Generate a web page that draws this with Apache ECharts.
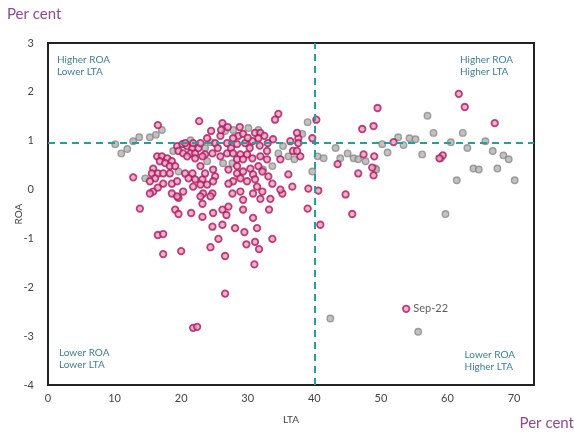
<!DOCTYPE html>
<html><head><meta charset="utf-8">
<script src="https://cdn.jsdelivr.net/npm/echarts@6/dist/echarts.min.js"></script>
<style>html,body{margin:0;padding:0;background:#fff}#c{width:574px;height:435px}</style>
</head><body><div id="c"></div>
<script>
// [LTA, ROA] pairs, per cent
const greyPoints = [
[10.1,0.93],[11.0,0.74],[11.9,0.83],[12.8,0.99],[13.7,1.07],[15.3,1.07],[16.2,1.12],[17.1,1.22],
[14.6,0.23],[19.6,0.37],[21.4,1.01],[26.6,1.20],[27.8,1.22],[30.1,1.26],[31.6,1.22],[24.4,0.97],
[23.6,0.85],[34.6,0.74],[36.1,0.68],[37.0,0.62],[27.7,0.54],[26.3,0.54],[33.7,0.48],[32.3,0.41],
[39.0,1.38],[38.2,1.14],[35.3,0.89],[40.5,0.68],[41.4,0.64],[43.2,0.85],[45.0,0.74],[43.9,0.64],
[45.9,0.64],[46.6,0.62],[47.7,0.58],[49.2,0.43],[39.7,0.37],[57.0,1.51],[57.9,1.16],[52.6,1.07],
[54.3,1.05],[55.2,1.03],[53.4,0.91],[50.2,0.93],[51.0,0.76],[56.2,0.72],[59.0,0.64],[60.5,0.97],
[62.3,1.16],[63.0,0.85],[65.7,0.99],[66.8,0.79],[68.4,0.70],[69.2,0.62],[63.9,0.43],[64.7,0.41],
[67.5,0.43],[61.4,0.19],[70.1,0.19],[49.3,0.41],[59.7,-0.50],[42.4,-2.64],[55.6,-2.91],[23.9,0.58],
[18.8,0.79]
];
const pinkPoints = [
[49.5,1.67],[48.9,1.30],[47.2,1.24],[51.9,0.97],[59.3,0.70],[58.8,0.64],[61.7,1.96],[62.6,1.69],
[67.1,1.36],[49.0,0.68],[48.7,0.45],[48.9,0.29],[47.4,0.72],[46.6,0.33],[43.5,0.52],[44.7,-0.10],
[45.7,-0.50],[40.9,-0.72],[40.3,1.43],[39.7,1.05],[40.6,-0.02],[39.1,0.02],[39.0,-0.39],
[37.6,1.05],[37.6,0.95],[36.4,0.99],[37.4,1.16],[37.9,0.68],[36.8,0.79],[33.8,1.03],[34.6,1.55],
[34.1,1.43],[35.2,-0.08],
[16.5,1.32],[22.7,1.40],[26.2,1.36],[12.8,0.25],[13.8,-0.39],
[16.4,0.68],[17.1,0.68],[17.9,0.64],[16.8,0.58],[17.6,0.54],[18.6,0.58],[18.3,0.48],[19.1,0.48],
[15.8,0.43],[15.6,0.33],[16.5,0.33],[17.3,0.33],[18.3,0.33],[16.1,0.23],[15.3,0.17],[17.3,0.12],
[18.6,0.12],[15.8,-0.04],[15.3,-0.08],[18.6,-0.08],[16.5,0.04],[20.3,-0.04],[19.6,-0.17],[19.4,0.17],
[19.4,0.89],[20.2,0.93],[20.9,0.89],[21.7,0.85],[19.6,0.79],[20.3,0.74],[21.4,0.74],[22.1,0.74],
[22.6,0.85],[22.9,0.95],[21.8,0.95],[20.6,0.95],[20.9,0.68],[22.1,0.64],[23.6,0.72],[22.9,0.48],
[20.6,0.33],[21.7,0.33],[21.1,0.23],[22.1,0.21],[23.2,0.21],[22.9,0.10],[23.9,0.10],[21.8,0.06],
[23.3,-0.08],[22.9,-0.14],
[28.6,1.10],[29.3,1.14],[27.8,1.05],[31.1,1.16],[31.9,1.16],[31.6,1.05],[30.7,0.99],[29.6,0.95],
[28.4,0.93],[26.9,0.95],[25.9,1.10],[25.1,0.95],[23.9,1.05],
[26.0,1.22],[27.0,1.28],[28.8,1.28],[30.0,1.06],[32.5,1.10],[33.0,0.95],[24.5,1.20],[25.5,0.85],
[27.5,0.85],[30.3,0.85],[31.8,0.90],
[23.2,0.68],[24.7,0.74],[25.9,0.68],[26.9,0.74],[27.8,0.74],[28.9,0.72],[29.9,0.72],[28.4,0.62],
[29.3,0.62],[30.7,0.64],[31.9,0.68],[32.9,0.79],[32.9,0.62],[34.9,0.62],[37.4,0.79],
[24.8,0.41],[23.6,0.33],[25.1,0.27],[27.1,0.41],[28.4,0.48],[28.4,0.33],[29.3,0.37],[30.4,0.43],
[31.6,0.48],[32.2,0.37],[30.8,0.31],[28.9,0.23],[27.8,0.17],[29.9,0.17],[31.1,0.21],[33.1,0.27],
[33.7,0.12],[31.4,0.06],[27.1,0.12],[24.8,0.17],[24.7,-0.08],[27.7,-0.08],[28.9,-0.04],[30.8,-0.08],
[32.2,-0.04],[34.9,0.00],[36.1,0.31],[36.7,0.06],[33.4,-0.19],[31.9,-0.19],[29.3,-0.21],
[19.1,-0.41],[19.6,-0.50],[21.5,-0.48],[23.2,-0.56],[24.8,-0.48],[26.2,-0.41],[27.1,-0.35],[26.8,-0.52],
[29.3,-0.41],[30.8,-0.58],[33.2,-0.41],[23.2,-0.29],[24.4,-0.14],[19.4,-0.14],
[24.7,-0.76],[26.2,-0.72],[28.1,-0.79],[29.5,-0.87],[31.4,-0.79],[25.6,-1.01],[29.8,-1.12],[31.1,-1.07],
[33.7,-1.01],[31.7,-1.22],[16.5,-0.93],[17.3,-0.91],[17.3,-1.32],[20.0,-1.26],[24.4,-1.18],[26.6,-1.36],
[31.0,-1.53],[26.6,-2.13],[21.8,-2.83],[22.4,-2.81]
];
const latestPoint = [[53.8,-2.44]];
const latestLabel = 'Sep-22';
const xTicks = [0,10,20,30,40,50,60,70];
const yTicks = [-4,-3,-2,-1,0,1,2,3];
const roaThreshold = 0.95;
const ltaThreshold = 40;

const chart = echarts.init(document.getElementById('c'), null, {renderer:'canvas'});
const pinkStyle = {color:'#e3a0c0', borderColor:'#b0175b', borderWidth:1.8};
const greyStyle = {color:'#b2b2b2', borderColor:'#8a8a8a', borderWidth:1.4};
const ff = 'Lato, "Open Sans", sans-serif';
const quad = {fill:'#3f7d92', fontSize:10, fontFamily:ff, lineHeight:12};
chart.setOption({
  animation:false,
  grid:{left:48, top:43, right:40, bottom:50, show:true, borderColor:'#222', borderWidth:2,
        containLabel:false, outerBoundsMode:'none'},
  xAxis:{type:'value', min:xTicks[0], max:73, interval:10,
    name:'LTA', nameLocation:'middle', nameGap:30, nameMoveOverlap:false, nameTextStyle:{color:'#444', fontSize:10, fontFamily:ff},
    axisLine:{onZero:false, lineStyle:{color:'#222', width:2}}, axisTick:{show:false}, splitLine:{show:false},
    axisLabel:{color:'#444', fontSize:11, margin:8, fontFamily:ff, showMaxLabel:false}},
  yAxis:{type:'value', min:yTicks[0], max:yTicks[yTicks.length-1], interval:1,
    name:'ROA', nameLocation:'middle', nameGap:24, nameMoveOverlap:false, nameRotate:90, nameTextStyle:{color:'#444', fontSize:10, fontFamily:ff},
    axisLine:{onZero:false, lineStyle:{color:'#222', width:2}}, axisTick:{show:false}, splitLine:{show:false},
    axisLabel:{color:'#444', fontSize:11, margin:14, fontFamily:ff}},
  graphic:[
    {type:'text', left:7, top:7, style:{text:'Per cent', fill:'#8d4a8d', fontSize:15, fontFamily:ff}},
    {type:'text', right:0, top:416, style:{text:'Per cent', fill:'#8d4a8d', fontSize:15, fontFamily:ff}},
    {type:'text', left:57, top:54, style:Object.assign({text:'Higher ROA\nLower LTA'}, quad)},
    {type:'text', right:61, top:54, style:Object.assign({text:'Higher ROA\nHigher LTA', align:'right'}, quad)},
    {type:'text', left:59, top:347, style:Object.assign({text:'Lower ROA\nLower LTA'}, quad)},
    {type:'text', right:59, top:349, style:Object.assign({text:'Lower ROA\nHigher LTA', align:'right'}, quad)}
  ],
  series:[
    {type:'scatter', data:greyPoints, symbolSize:6.5, itemStyle:greyStyle, z:2},
    {type:'scatter', data:pinkPoints, symbolSize:6.5, itemStyle:pinkStyle, z:3,
      markLine:{silent:true, symbol:'none', label:{show:false},
        lineStyle:{color:'#2a9c9a', width:2, type:[7,5]},
        data:[{yAxis:roaThreshold},{xAxis:ltaThreshold}]}},
    {type:'scatter', data:latestPoint, symbolSize:6.5, itemStyle:pinkStyle, z:4,
      label:{show:true, position:'right', distance:3, formatter:latestLabel, color:'#333', fontSize:11, fontFamily:ff}}
  ]
});
</script></body></html>
